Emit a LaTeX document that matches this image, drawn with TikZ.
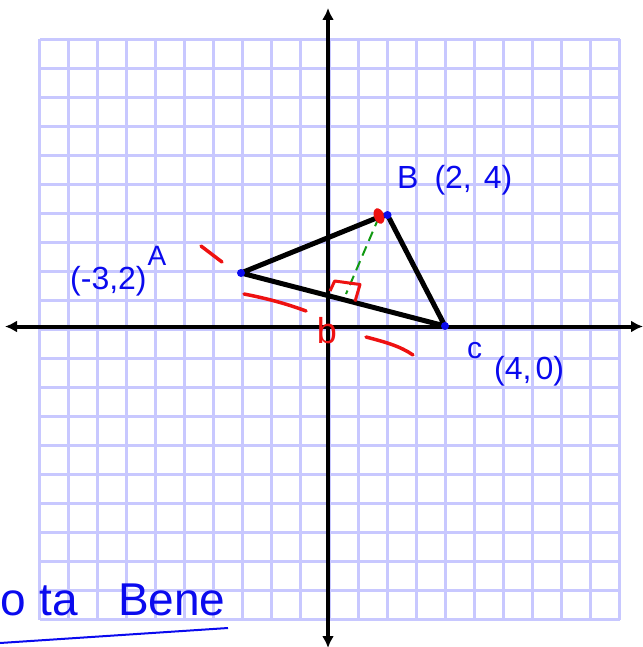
\documentclass[tikz,border=0pt]{standalone}
\usepackage{fontspec}
\setmainfont{Liberation Sans}
\usetikzlibrary{arrows.meta}
\definecolor{gridc}{HTML}{C8C8FF}
\definecolor{inkblue}{HTML}{0A0AEE}
\definecolor{inkred}{HTML}{EE1111}
\definecolor{inkgreen}{HTML}{119911}
\tikzset{
  gridline/.style={gridc, line width=3pt},
  axis/.style={line width=4pt, {Latex[length=12pt,width=12pt]}-{Latex[length=12pt,width=12pt]}},
  side/.style={line width=5pt, line join=round},
  pt/.style={circle, fill=inkblue, inner sep=0pt, minimum size=8pt},
  redmark/.style={inkred, line width=3.5pt, line cap=round},
  lbl/.style={inkblue, inner sep=0pt},
}
\begin{document}
\begin{tikzpicture}[x=1pt,y=-1pt]
\useasboundingbox (0,0) rectangle (642,647);
% grid
\foreach \i in {0,...,20} {
  \draw[gridline] ({39.5+29*\i},39.5) -- ({39.5+29*\i},619.5);
  \draw[gridline] (39.5,{39.5+29*\i}) -- (619.5,{39.5+29*\i});
}
% axes
\coordinate (xl) at (5,326.5);
\coordinate (xr) at (643,326.5);
\coordinate (yt) at (328,8);
\coordinate (yb) at (328,648);
\draw[axis] (xl) -- (xr);
\draw[axis] (yt) -- (yb);
% triangle
\coordinate (A) at (241,273);
\coordinate (B) at (387.5,215);
\coordinate (C) at (445,326);
\coordinate (Br) at (379,217);
\coordinate (F) at (346,294);
\draw[inkgreen, line width=2pt, dash pattern=on 10pt off 6pt] (Br) -- (F);
\draw[side] (A) -- (Br) -- (B) -- (C) -- cycle;
\draw[inkred, line width=3pt, line join=round] (330,291) -- (334.7,281) -- (360,284.5) -- (355,301.5);
\fill[inkred, rotate around={20:(379,216)}] (379,216) ellipse [x radius=5pt, y radius=8pt];
\node[pt] (pA) at (A) {};
\node[pt] (pB) at (B) {};
\node[pt] (pC) at (C) {};
% red marks
\draw[redmark] (201,246) -- (222,262);
\draw[redmark] (244,294) .. controls (270,299) and (290,305) .. (306,311);
\draw[redmark] (366,337) .. controls (385,342) and (400,346) .. (413,355);
\node[inkred, inner sep=0pt, font=\fontsize{36}{36}\selectfont] (b) at (327,331) {b};
% labels
\node[lbl, anchor=base west, font=\fontsize{32}{32}\selectfont] (lB) at (397,188) {B\hspace{16pt}(2,\hspace{12pt}4)};
\node[lbl, anchor=base west, font=\fontsize{32}{32}\selectfont] (lA) at (70,289) {(-3,2)};
\node[lbl, font=\fontsize{28}{28}\selectfont] (lAA) at (157,256) {A};
\node[lbl, anchor=base west, font=\fontsize{30}{30}\selectfont] (lC) at (467,358) {c};
\node[lbl, anchor=base west, font=\fontsize{32}{32}\selectfont] (lC2) at (494,379) {(4,\hspace{4pt}0)};
% nota bene
\node[lbl, anchor=base west, font=\fontsize{46}{46}\selectfont] (nb) at (0,615) {o\hspace{14pt}ta\hspace{40pt}Bene};
\coordinate (u1) at (0,643);
\coordinate (u2) at (228,628);
\draw[inkblue, line width=2pt] (u1) -- (u2);
\end{tikzpicture}
\end{document}
